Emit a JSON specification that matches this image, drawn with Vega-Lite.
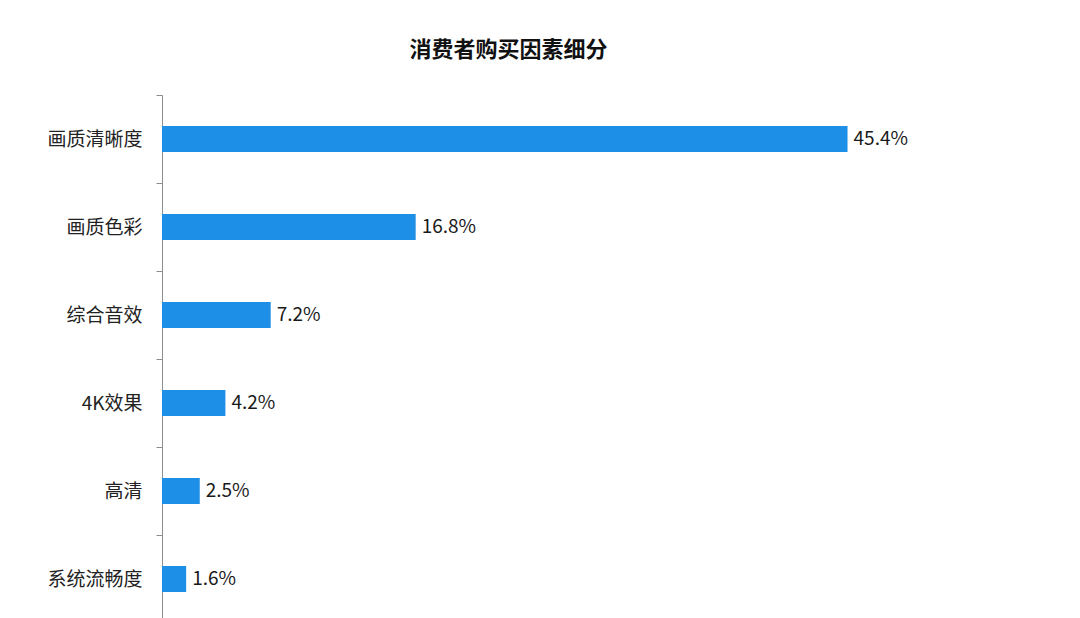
{
  "$schema": "https://vega.github.io/schema/vega-lite/v6.json",
  "autosize": "none",
  "padding": {"left": 162, "top": 95, "right": 0, "bottom": 0},
  "width": 755,
  "height": 528,
  "background": "white",
  "title": {
    "text": "消费者购买因素细分",
    "font": "Noto Sans CJK SC",
    "fontSize": 22,
    "fontWeight": "bold",
    "color": "#111111",
    "anchor": "middle",
    "dx": -31,
    "offset": 24
  },
  "data": {
    "values": [
      {"factor": "画质清晰度", "value": 45.4, "label": "45.4%"},
      {"factor": "画质色彩", "value": 16.8, "label": "16.8%"},
      {"factor": "综合音效", "value": 7.2, "label": "7.2%"},
      {"factor": "4K效果", "value": 4.2, "label": "4.2%"},
      {"factor": "高清", "value": 2.5, "label": "2.5%"},
      {"factor": "系统流畅度", "value": 1.6, "label": "1.6%"}
    ]
  },
  "config": {
    "view": {"stroke": null},
    "font": "Noto Sans CJK SC"
  },
  "encoding": {
    "y": {
      "field": "factor",
      "type": "nominal",
      "sort": null,
      "scale": {"paddingInner": 0, "paddingOuter": 0},
      "axis": {
        "title": null,
        "tickBand": "extent",
        "domainColor": "#8c8c8c",
        "tickColor": "#8c8c8c",
        "tickSize": 6,
        "labelFont": "Noto Sans CJK SC",
        "labelFontSize": 19,
        "labelColor": "#222222",
        "labelPadding": 14
      }
    },
    "x": {
      "field": "value",
      "type": "quantitative",
      "scale": {"domain": [0, 50], "nice": false},
      "axis": null
    }
  },
  "layer": [
    {"mark": {"type": "bar", "size": 26, "color": "#1E8FE6"}},
    {
      "mark": {"type": "text", "align": "left", "dx": 6, "fontSize": 19, "color": "#1a1a1a", "font": "Noto Sans CJK SC"},
      "encoding": {"text": {"field": "label"}}
    }
  ]
}
